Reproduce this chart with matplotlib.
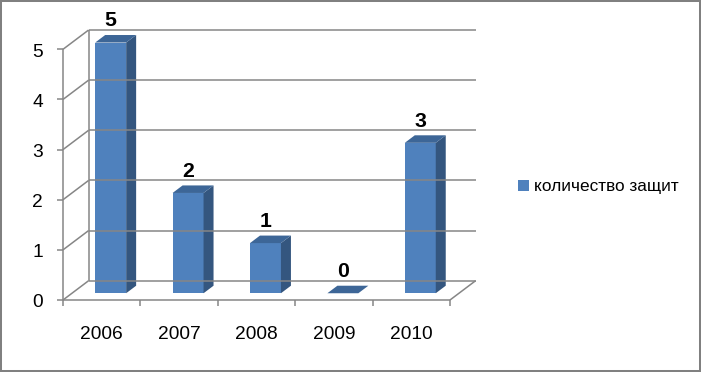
"""
plot.py
Excel-style 3D column chart: number of defenses per year.
"""

import matplotlib

matplotlib.use("Agg")

import matplotlib.pyplot as plt
from matplotlib.patches import Patch, Polygon, Rectangle


YEARS = ["2006", "2007", "2008", "2009", "2010"]
DEFENSES = [5, 2, 1, 0, 3]
Y_TICKS = [0, 1, 2, 3, 4, 5]
SERIES_LABEL = "количество защит"

FRONT = "#4F81BD"
TOP = "#3D6697"
SIDE = "#34567F"
GRID = "#868686"

# depth of the 3D box, in data units (categories, values)
DX, DY = 0.331, 0.385
F0, F1 = 0.35, 0.74  # bar front / back depth fraction
BAR_W = 0.40


def depth(x, y, f):
    return (x + f * DX, y + f * DY)


def draw_walls(ax, n):
    kw = dict(color=GRID, lw=1.1, clip_on=False, solid_capstyle="butt")
    x0, x1 = -0.5, n - 0.5
    for v in Y_TICKS:
        bx, by = depth(x0, v, 1)
        ax.plot([x0, bx], [v, by], **kw)
        ax.plot([bx, x1 + DX], [by, by], **kw)
        # tick marks on the front vertical axis
        ax.plot([x0 - 0.08, x0], [v, v], **kw)
    ax.plot([x0, x0], [0, Y_TICKS[-1]], **kw)
    ax.plot([x0 + DX, x0 + DX], [DY, Y_TICKS[-1] + DY], **kw)
    ax.plot([x0, x1], [0, 0], **kw)
    ax.plot([x1, x1 + DX], [0, DY], **kw)
    for i in range(n + 1):
        ax.plot([x0 + i, x0 + i], [0, -0.12], **kw)


def draw_bar(ax, i, v):
    xl, xr = i - BAR_W / 2, i + BAR_W / 2
    fl, fr = depth(xl, 0, F0), depth(xr, 0, F0)
    fl_t, fr_t = depth(xl, v, F0), depth(xr, v, F0)
    bl_t, br_t = depth(xl, v, F1), depth(xr, v, F1)
    br = depth(xr, 0, F1)
    kw = dict(closed=True, lw=0, clip_on=False)
    if v > 0:
        ax.add_patch(Polygon([fl, fr, fr_t, fl_t], facecolor=FRONT, **kw))
        ax.add_patch(Polygon([fr, br, br_t, fr_t], facecolor=SIDE, **kw))
    ax.add_patch(Polygon([fl_t, fr_t, br_t, bl_t], facecolor=TOP, **kw))
    ax.text(i + F0 * DX, v + F0 * DY + 0.32, str(v), ha="center", va="baseline",
            fontsize=15.3, fontweight="bold", clip_on=False)


def main():
    plt.rcParams["font.family"] = ["Liberation Sans", "DejaVu Sans"]

    fig = plt.figure(figsize=(7.01, 3.72), dpi=100, facecolor="white")
    ax = fig.add_axes([63 / 701, 72 / 372, 387 / 701, 250.7 / 372])
    ax.set_xlim(-0.5, len(YEARS) - 0.5)
    ax.set_ylim(0, 5)
    ax.axis("off")

    draw_walls(ax, len(YEARS))
    for i, v in enumerate(DEFENSES):
        draw_bar(ax, i, v)

    for v in Y_TICKS:
        ax.text(-0.76, v - 0.147, str(v), ha="right", va="baseline", fontsize=13.8)
    for i, year in enumerate(YEARS):
        ax.text(i, -0.778, year, ha="center", va="baseline", fontsize=13.8)

    fig.legend(handles=[Patch(facecolor=FRONT, edgecolor="none")], labels=[SERIES_LABEL],
               loc="center left", bbox_to_anchor=(518 / 701, 185 / 372), frameon=False,
               fontsize=12.4, handlelength=0.65, handleheight=0.65, handletextpad=0.25,
               borderpad=0, borderaxespad=0)

    fig.patches.append(Rectangle((1 / 701, 1 / 372), 699 / 701, 370 / 372, transform=fig.transFigure,
                                 fill=False, edgecolor="#808080", lw=1.45))

    fig.savefig("out.png", dpi=100, facecolor="white")
    plt.close(fig)


if __name__ == "__main__":
    main()
